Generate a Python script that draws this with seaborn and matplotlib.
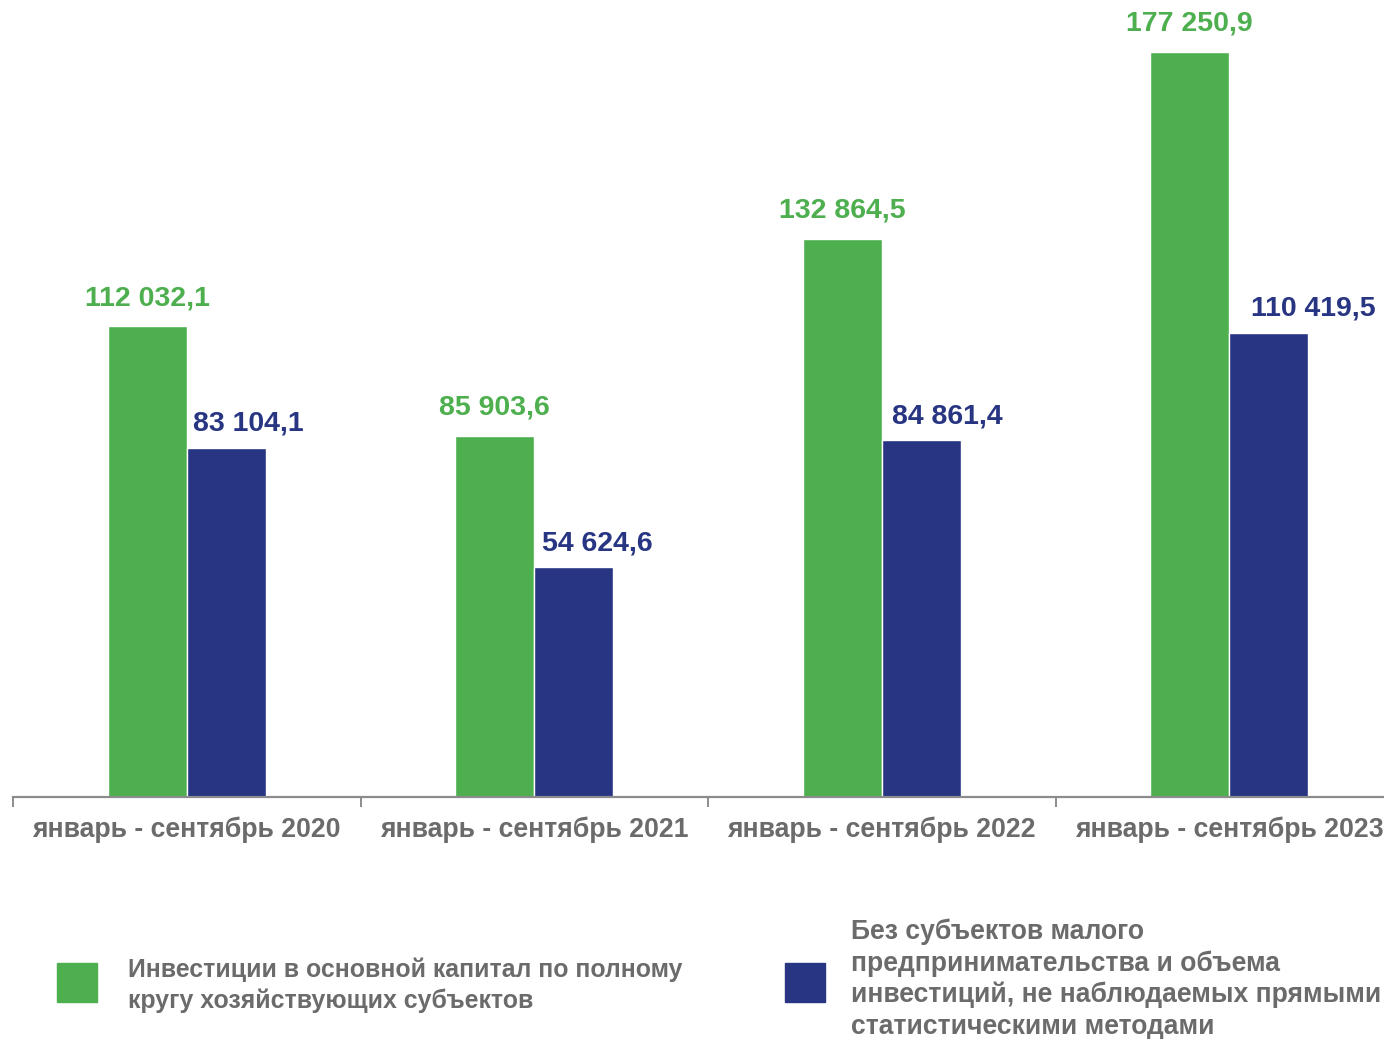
import numpy as np
import pandas as pd
import seaborn as sns
import matplotlib.pyplot as plt
from matplotlib.patches import Rectangle

periods = ['январь - сентябрь 2020', 'январь - сентябрь 2021',
           'январь - сентябрь 2022', 'январь - сентябрь 2023']
total = [112032.1, 85903.6, 132864.5, 177250.9]
no_small = [83104.1, 54624.6, 84861.4, 110419.5]
total_name = 'Инвестиции в основной капитал по полному\nкругу хозяйствующих субъектов'
no_small_name = ('Без субъектов малого\nпредпринимательства и объема\n'
                 'инвестиций, не наблюдаемых прямыми\nстатистическими методами')

green = '#4EAF4F'
navy = '#283583'
gray = '#6b6b6b'

df = pd.DataFrame({
    'period': periods * 2,
    'value': total + no_small,
    'series': ['total'] * 4 + ['no_small'] * 4,
})

sns.set_theme(style='white')
plt.rcParams['font.family'] = ['Liberation Sans', 'DejaVu Sans']

fig = plt.figure(figsize=(13.84, 10.39), dpi=100)
ax = fig.add_axes([13 / 1384, 1 - 797 / 1039, 1390 / 1384, 797 / 1039])

sns.barplot(data=df, x='period', y='value', hue='series',
            palette={'total': green, 'no_small': navy},
            width=0.455, saturation=1, legend=False, ax=ax)

ax.set_xlim(-0.5, 3.5)
ax.set_ylim(0, 189620)
ax.set_xlabel('')
ax.set_ylabel('')
ax.set_yticks([])
for side in ['left', 'right', 'top']:
    ax.spines[side].set_visible(False)
ax.spines['bottom'].set_color('#8c8c8c')
ax.spines['bottom'].set_linewidth(1.6)

# category labels, separator ticks between groups
ax.set_xticks(range(len(periods)))
ax.set_xticklabels(periods, fontsize=19.2, fontweight='bold', color=gray)
ax.tick_params(axis='x', which='major', length=0, pad=14)
ax.set_xticks(np.arange(-0.5, 3.0, 1.0), minor=True)
ax.tick_params(axis='x', which='minor', length=7, width=1.4,
               color='#8c8c8c', direction='out', bottom=True)


def fmt(v):
    s = f'{v:,.1f}'
    return s.replace(',', ' ').replace('.', ',')


green_bars, navy_bars = ax.containers[0], ax.containers[1]
for bar, v in zip(green_bars, total):
    ax.annotate(fmt(v), (bar.get_x() + bar.get_width() / 2, bar.get_height()),
                xytext=(0, 15), textcoords='offset pixels', ha='center', va='bottom',
                fontsize=20.5, fontweight='bold', color=green)
for bar, v, dx in zip(navy_bars, no_small, [22, 24, 26, 45]):
    ax.annotate(fmt(v), (bar.get_x() + bar.get_width() / 2, bar.get_height()),
                xytext=(dx, 11), textcoords='offset pixels', ha='center', va='bottom',
                fontsize=20.5, fontweight='bold', color=navy)

# legend
W, H = 1384, 1039
fig.patches.append(Rectangle((57 / W, 1 - 1002 / H), 40 / W, 39 / H,
                             transform=fig.transFigure, color=green, figure=fig))
fig.patches.append(Rectangle((785 / W, 1 - 1002 / H), 40 / W, 39 / H,
                             transform=fig.transFigure, color=navy, figure=fig))
fig.text(128 / W, 1 - 985 / H, total_name, ha='left', va='center',
         fontsize=17.9, fontweight='bold', color=gray, linespacing=1.345)
fig.text(851 / W, 1 - 979 / H, no_small_name, ha='left', va='center',
         fontsize=19.1, fontweight='bold', color=gray, linespacing=1.26)

fig.savefig('out.png', dpi=100)
